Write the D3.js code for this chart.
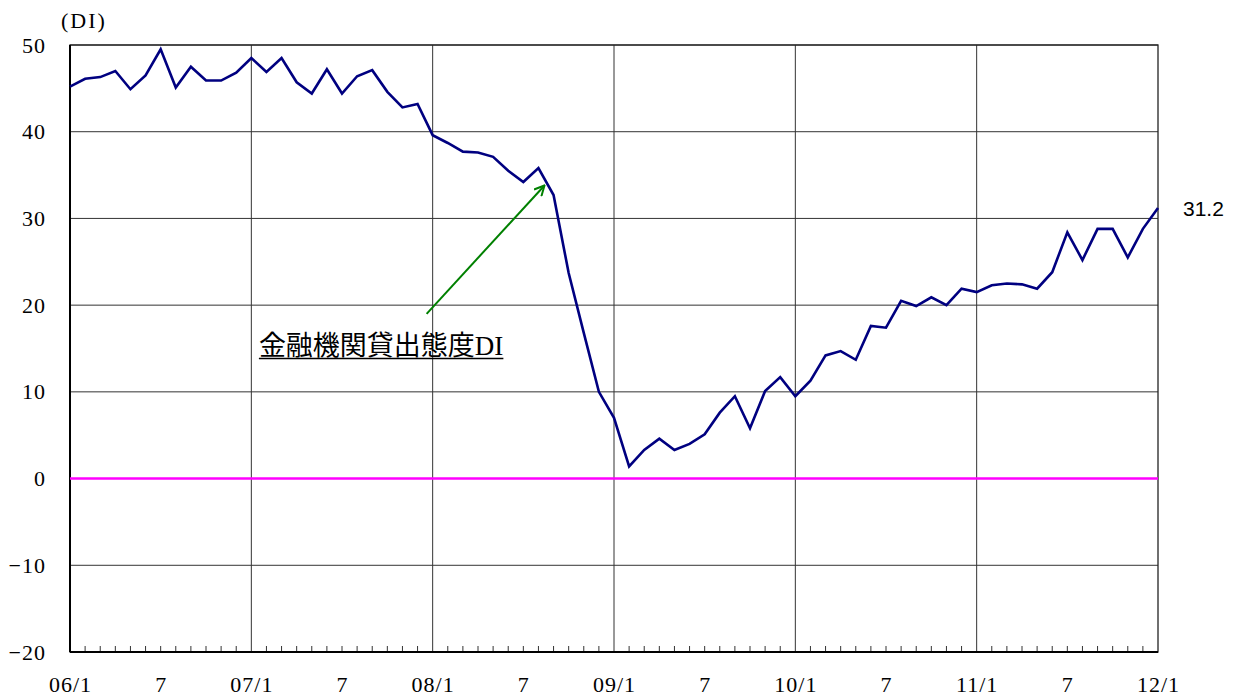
<!DOCTYPE html>
<html>
<head>
<meta charset="utf-8">
<script src="https://cdn.jsdelivr.net/npm/d3@7"></script>
<style>
  body { margin: 0; background: #fff; }
  svg { display: block; }
  .tick text { font-family: "Liberation Serif", "DejaVu Serif", serif; font-size: 22px; fill: #000; }
</style>
</head>
<body>
<div class="chart"></div>
<script>
// monthly values, 2006/1 .. 2012/1
var di2006 = [45.2, 46.1, 46.3, 47.0, 44.9, 46.5, 49.5, 45.1, 47.5, 45.9, 45.9, 46.8];
var di2007 = [48.5, 46.9, 48.5, 45.7, 44.4, 47.2, 44.4, 46.4, 47.1, 44.6, 42.8, 43.2];
var di2008 = [39.6, 38.7, 37.7, 37.6, 37.1, 35.5, 34.2, 35.8, 32.7, 23.7, 16.8, 10.0];
var di2009 = [7.0, 1.4, 3.3, 4.6, 3.3, 4.0, 5.1, 7.6, 9.5, 5.8, 10.1, 11.7];
var di2010 = [9.5, 11.3, 14.2, 14.7, 13.7, 17.6, 17.4, 20.5, 19.9, 20.9, 20.0, 21.9];
var di2011 = [21.5, 22.3, 22.5, 22.4, 21.9, 23.8, 28.4, 25.2, 28.8, 28.8, 25.5, 28.8];
var di2012 = [31.2];

var xTickLabels = ["06/1", "7", "07/1", "7", "08/1", "7", "09/1", "7", "10/1", "7", "11/1", "7", "12/1"];
var yTicks = [-20, -10, 0, 10, 20, 30, 40, 50];
var seriesName = "金融機関貸出態度DI";
var unitLabel = "(DI)";

var values = [].concat(di2006, di2007, di2008, di2009, di2010, di2011, di2012);
var lastValue = values[values.length - 1];

var margin = {top: 45, right: 82, bottom: 45, left: 70},
    fullW = 1240, fullH = 697,
    width = fullW - margin.left - margin.right,
    height = fullH - margin.top - margin.bottom;

var svg = d3.select(".chart").append("svg")
    .attr("width", fullW).attr("height", fullH);

var g = svg.append("g")
    .attr("transform", "translate(" + margin.left + "," + margin.top + ")");

var x = d3.scaleLinear().domain([0, values.length - 1]).range([0, width]);
var y = d3.scaleLinear().domain([-20, 50]).range([height, 0]);

// horizontal grid
g.append("g").selectAll("line")
    .data(yTicks.filter(function(d){ return d !== 0 && d !== -20; }))
    .enter().append("line")
    .attr("x1", 0).attr("x2", width)
    .attr("y1", function(d){ return y(d); }).attr("y2", function(d){ return y(d); })
    .attr("stroke", "#333").attr("stroke-width", 1);

// vertical grid at each January
var yearIdx = d3.range(12, values.length - 1, 12);
g.append("g").selectAll("line")
    .data(yearIdx)
    .enter().append("line")
    .attr("x1", function(d){ return x(d); }).attr("x2", function(d){ return x(d); })
    .attr("y1", 0).attr("y2", height)
    .attr("stroke", "#333").attr("stroke-width", 1);

// monthly minor ticks on bottom
g.append("g").selectAll("line")
    .data(d3.range(1, values.length - 1).filter(function(d){ return d % 12 !== 0; }))
    .enter().append("line")
    .attr("x1", function(d){ return x(d); }).attr("x2", function(d){ return x(d); })
    .attr("y1", height).attr("y2", height - 6)
    .attr("stroke", "#333").attr("stroke-width", 1);

// frame
g.append("rect")
    .attr("x", 0).attr("y", 0).attr("width", width).attr("height", height)
    .attr("fill", "none").attr("stroke", "#222").attr("stroke-width", 1.3);
g.append("line").attr("x1", 0).attr("x2", 0).attr("y1", 0).attr("y2", height)
    .attr("stroke", "#000").attr("stroke-width", 2);
g.append("line").attr("x1", 0).attr("x2", width).attr("y1", height).attr("y2", height)
    .attr("stroke", "#000").attr("stroke-width", 2);

// zero line
g.append("line")
    .attr("x1", 0).attr("x2", width)
    .attr("y1", y(0)).attr("y2", y(0))
    .attr("stroke", "#ff00ff").attr("stroke-width", 2.5);

// axes (labels only)
var yAxis = d3.axisLeft(y).tickValues(yTicks).tickSize(0).tickPadding(24)
    .tickFormat(function(d){ return d < 0 ? "\u2212" + Math.abs(d) : d; });
g.append("g").call(yAxis).call(function(s){ s.select(".domain").remove(); });

var xAxis = d3.axisBottom(x)
    .tickValues(d3.range(0, values.length, 6))
    .tickSize(0).tickPadding(24)
    .tickFormat(function(d, i){ return xTickLabels[i]; });
g.append("g").attr("transform", "translate(0," + height + ")")
    .call(xAxis).call(function(s){ s.select(".domain").remove(); });
g.selectAll(".tick text").attr("letter-spacing", 1);

// series line
var line = d3.line()
    .x(function(d, i){ return x(i); })
    .y(function(d){ return y(d); });
g.append("path")
    .datum(values)
    .attr("d", line)
    .attr("fill", "none")
    .attr("stroke", "#000080")
    .attr("stroke-width", 2.6)
    .attr("stroke-linejoin", "miter");

// unit label
svg.append("text")
    .attr("x", 61).attr("y", 28)
    .attr("font-family", "Liberation Serif, serif")
    .attr("font-size", 22)
    .attr("letter-spacing", 2)
    .text(unitLabel);

// last value label
g.append("text")
    .attr("x", width + 25).attr("y", y(lastValue) + 8)
    .attr("font-family", "Liberation Sans, Arial, sans-serif")
    .attr("font-size", 21)
    .text(lastValue.toFixed(1));

// annotation arrow
var defs = svg.append("defs");
defs.append("marker")
    .attr("id", "arr").attr("viewBox", "0 0 12 12")
    .attr("refX", 11).attr("refY", 6)
    .attr("markerWidth", 12).attr("markerHeight", 12)
    .attr("markerUnits", "userSpaceOnUse")
    .attr("orient", "auto")
    .append("path").attr("d", "M1,1 L11,6 L1,11")
    .attr("fill", "none").attr("stroke", "#008000").attr("stroke-width", 2);

g.append("line")
    .attr("x1", x(23.6)).attr("y1", y(19))
    .attr("x2", x(31.4)).attr("y2", y(33.8))
    .attr("stroke", "#008000").attr("stroke-width", 2)
    .attr("marker-end", "url(#arr)");

var ann = g.append("text")
    .attr("x", x(12.5)).attr("y", y(14.3))
    .attr("font-family", "Liberation Serif, Noto Sans CJK JP, serif")
    .attr("font-size", 27)
    .text(seriesName);
var bb = ann.node().getBBox();
g.append("line")
    .attr("x1", bb.x).attr("x2", bb.x + bb.width)
    .attr("y1", y(14.3) + 4).attr("y2", y(14.3) + 4)
    .attr("stroke", "#000").attr("stroke-width", 1.5);
</script>
</body>
</html>
